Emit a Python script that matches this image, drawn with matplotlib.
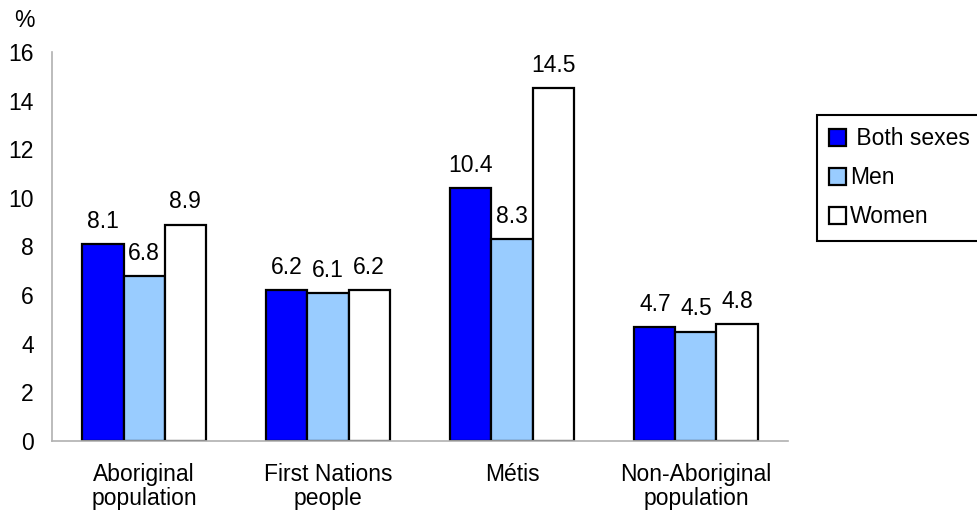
import numpy as np
import matplotlib.pyplot as plt

plt.rcParams['font.family'] = ['Liberation Sans', 'DejaVu Sans']

groups = ["Aboriginal\npopulation", "First Nations\npeople", "Métis", "Non-Aboriginal\npopulation"]
both_sexes = [8.1, 6.2, 10.4, 4.7]
men = [6.8, 6.1, 8.3, 4.5]
women = [8.9, 6.2, 14.5, 4.8]

series = [(" Both sexes", both_sexes, "#0000ff"),
          ("Men", men, "#99ccff"),
          ("Women", women, "#ffffff")]

fs = 16.5

fig = plt.figure(figsize=(9.78, 5.14), dpi=100)
ax = fig.add_axes([0.0532, 0.142, 0.7525, 0.757])

x = np.arange(len(groups))
w = 0.223
for i, (name, vals, col) in enumerate(series):
    bars = ax.bar(x + (i - 1) * w, vals, w, color=col, edgecolor="black",
                  linewidth=1.6, label=name)
    for b, v in zip(bars, vals):
        ax.annotate(f"{v:.1f}", (b.get_x() + b.get_width() / 2, v),
                    xytext=(0, 8), textcoords="offset points",
                    ha="center", va="bottom", fontsize=fs)

ax.set_xlim(-0.5, len(groups) - 0.5)
ax.set_ylim(0, 16)
ax.set_yticks(range(0, 17, 2))
ax.set_xticks(x)
ax.set_xticklabels(groups, fontsize=fs, linespacing=1.05)
ax.tick_params(axis="y", length=0, pad=13, labelsize=fs)
ax.tick_params(axis="x", length=0, pad=16)

for s in ["top", "right"]:
    ax.spines[s].set_visible(False)
for s in ["left", "bottom"]:
    ax.spines[s].set_color("#b0b0b0")
    ax.spines[s].set_linewidth(1.2)

fig.text(0.014, 0.96, "%", fontsize=fs, va="center")

leg = fig.legend(loc="upper left", bbox_to_anchor=(0.835, 0.777), fontsize=fs,
                 frameon=True, fancybox=False, edgecolor="black", framealpha=1,
                 borderaxespad=0, handlelength=0.75, handleheight=0.75,
                 handletextpad=0.15, labelspacing=0.7, borderpad=0.55)
leg.get_frame().set_linewidth(1.5)

fig.savefig("out.png", dpi=100)
